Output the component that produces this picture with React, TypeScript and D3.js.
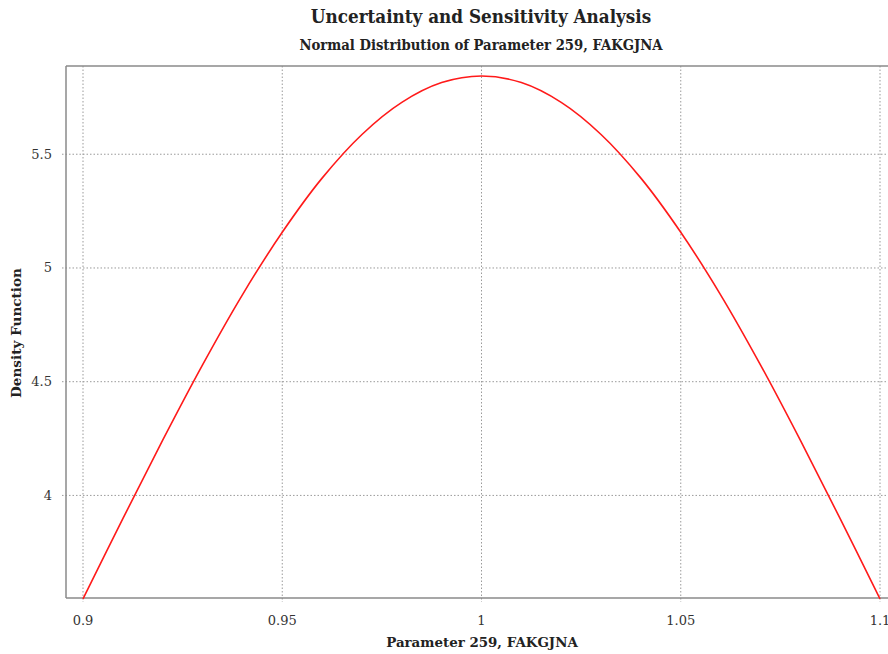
import React from "react";
import * as d3 from "d3";

const xValues = [0.9, 0.91, 0.92, 0.93, 0.94, 0.95, 0.96, 0.97, 0.98, 0.99, 1.0, 1.01, 1.02, 1.03, 1.04, 1.05, 1.06, 1.07, 1.08, 1.09, 1.1];
const densityValues = [3.545, 3.898, 4.243, 4.574, 4.882, 5.157, 5.395, 5.587, 5.728, 5.815, 5.844, 5.815, 5.728, 5.587, 5.395, 5.157, 4.882, 4.574, 4.243, 3.898, 3.545];
const xTicks = [0.9, 0.95, 1, 1.05, 1.1];
const xTickLabels = ["0.9", "0.95", "1", "1.05", "1.1"];
const yTicks = [4, 4.5, 5, 5.5];
const yTickLabels = ["4", "4.5", "5", "5.5"];

const W = 888;
const H = 654;
const left = 66;
const top = 66;
const bottom = 598;
const right = 900;

export default function App() {
  const x = d3.scaleLinear().domain([0.9, 1.1]).range([83, 880]);
  const y = d3.scaleLinear().domain([3.549, 5.888]).range([bottom, top]);
  const line = d3
    .line<number>()
    .x((_, i) => x(xValues[i]))
    .y((d) => y(d))
    .curve(d3.curveCatmullRom);
  const grid = "#9a9a9a";
  const axisColor = "#8a8a8a";
  const serif = "'DejaVu Serif', serif";
  const condensed = "'DejaVu Serif Condensed', 'DejaVu Serif', serif";
  return (
    <svg width={W} height={H} style={{ position: "absolute", left: 0, top: 0, background: "#fff" }}>
      <rect x={0} y={0} width={W} height={H} fill="#fff" />
      <text x={481} y={23} textAnchor="middle" fontFamily={condensed} fontWeight="bold" fontSize={18.7} fill="#222">
        Uncertainty and Sensitivity Analysis
      </text>
      <text x={481} y={50} textAnchor="middle" fontFamily={condensed} fontWeight="bold" fontSize={14.7} fill="#222">
        Normal Distribution of Parameter 259, FAKGJNA
      </text>
      {xTicks.map((t) => (
        <line key={"gx" + t} x1={x(t)} x2={x(t)} y1={top} y2={bottom + 4} stroke={grid} strokeWidth={1} strokeDasharray="1.5,2" />
      ))}
      {yTicks.map((t) => (
        <line key={"gy" + t} x1={left - 4} x2={right} y1={y(t)} y2={y(t)} stroke={grid} strokeWidth={1} strokeDasharray="1.5,2" />
      ))}
      <line x1={left} x2={right} y1={top} y2={top} stroke={axisColor} strokeWidth={1.5} />
      <line x1={left} x2={left} y1={top} y2={bottom} stroke={axisColor} strokeWidth={1.5} />
      <line x1={left} x2={right} y1={bottom} y2={bottom} stroke={axisColor} strokeWidth={1.5} />
      <path d={line(densityValues) || ""} fill="none" stroke="#ff1a1a" strokeWidth={1.6} />
      {xTicks.map((t, i) => (
        <text key={"tx" + t} x={x(t)} y={625} textAnchor="middle" fontFamily={serif} fontSize={13} fill="#333">
          {xTickLabels[i]}
        </text>
      ))}
      {yTicks.map((t, i) => (
        <text key={"ty" + t} x={52} y={y(t) + 4.5} textAnchor="end" fontFamily={serif} fontSize={13} fill="#333">
          {yTickLabels[i]}
        </text>
      ))}
      <text x={482} y={647} textAnchor="middle" fontFamily={serif} fontWeight="bold" fontSize={13.4} fill="#222">
        Parameter 259, FAKGJNA
      </text>
      <text transform={`translate(21, 333) rotate(-90)`} textAnchor="middle" fontFamily={serif} fontWeight="bold" fontSize={13.6} fill="#222">
        Density Function
      </text>
    </svg>
  );
}
